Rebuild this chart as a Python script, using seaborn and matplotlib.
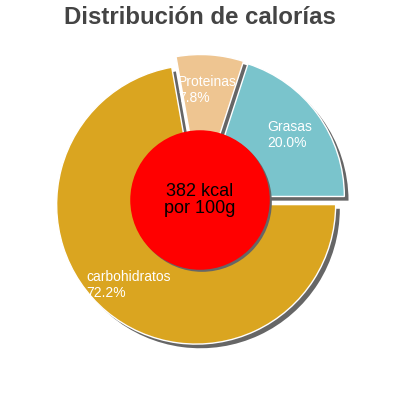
import matplotlib
matplotlib.use("Agg")
import matplotlib.pyplot as plt
import matplotlib.patches as mpatches
import matplotlib.transforms as mtransforms
import seaborn as sns

# datos
nutrientes = ["Grasas", "Proteinas", "carbohidratos"]
porcentajes = [20.0, 7.8, 72.2]
colores = ["#7AC4CC", "#EEC591", "#DAA520"]
titulo = "Distribución de calorías"
texto_centro = "382 kcal\npor 100g"

sns.set_theme(style="white")
plt.rcParams["font.family"] = ["Liberation Sans", "DejaVu Sans"]

fig = plt.figure(figsize=(4, 4), dpi=100)
ax = fig.add_axes([0, 0, 1, 1])

etiquetas = [f"{n}\n{p:.1f}%" for n, p in zip(nutrientes, porcentajes)]
cunas, textos = ax.pie(porcentajes, labels=etiquetas, colors=colores,
                       startangle=0, counterclock=True, radius=1,
                       explode=[0.043] * len(porcentajes), labeldistance=0.75,
                       wedgeprops={"zorder": 3},
                       textprops={"color": "white", "fontsize": 10, "zorder": 7})
for t in textos:
    t.set_horizontalalignment("center")
    t.set_multialignment("left")


def sombra(patch, dx, dy):
    # copia desplazada en puntos, gris oscuro, detras del original
    tr = ax.transData + mtransforms.ScaledTranslation(dx / 72, -dy / 72, fig.dpi_scale_trans)
    if isinstance(patch, mpatches.Wedge):
        s = mpatches.Wedge(patch.center, patch.r, patch.theta1, patch.theta2)
    else:
        s = mpatches.Circle(patch.center, patch.radius)
    s.set_transform(tr)
    s.set_facecolor("#666666")
    s.set_edgecolor("none")
    s.set_zorder(patch.get_zorder() - 0.5)
    ax.add_patch(s)


for w in cunas:
    sombra(w, 3, 3)

# circulo central
circulo = mpatches.Circle((0, 0), 0.5, facecolor="#FF0000", edgecolor="none", zorder=5)
ax.add_patch(circulo)
sombra(circulo, 1.5, 1.5)
ax.text(0, 0, texto_centro, ha="center", va="center", fontsize=13,
        color="black", zorder=6, linespacing=1.0)

lim = 200 / 139.5
ax.set_xlim(-lim, lim)
ax.set_ylim(-lim, lim)
ax.set_aspect("equal")
ax.axis("off")

fig.text(0.5, 1 - 17 / 400, titulo, ha="center", va="center",
         fontsize=17.3, fontweight="bold", color="#444444")

fig.savefig("out.png", dpi=100)
